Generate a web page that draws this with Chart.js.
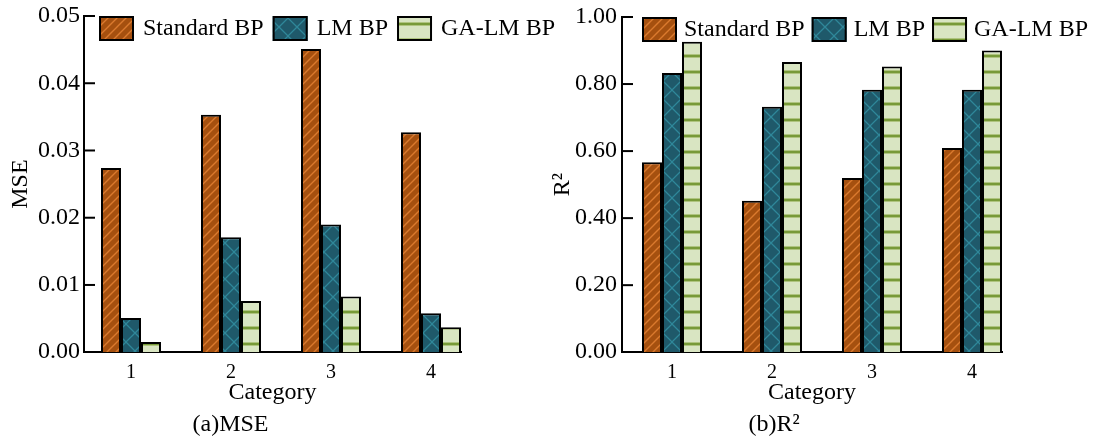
<!DOCTYPE html>
<html>
<head>
<meta charset="utf-8">
<script src="https://cdn.jsdelivr.net/npm/chart.js@4.4.0/dist/chart.umd.min.js"></script>
<style>
  body { margin: 0; background: #fff; }
  .wrap { position: absolute; top: 0; }
</style>
</head>
<body>
<div class="wrap" style="left:0"><canvas id="mseChartId" width="600" height="439"></canvas></div>
<div class="wrap" style="left:546px"><canvas id="r2ChartId" width="547" height="439"></canvas></div>
<script>
var categories = [1, 2, 3, 4];
var seriesNames = ['Standard BP', 'LM BP', 'GA-LM BP'];

var mseStandard = [0.0274, 0.0353, 0.0451, 0.0327];
var mseLM = [0.0051, 0.0171, 0.0190, 0.0058];
var mseGA = [0.0015, 0.0076, 0.0083, 0.0037];

var r2Standard = [0.567, 0.452, 0.520, 0.609];
var r2LM = [0.833, 0.732, 0.783, 0.783];
var r2GA = [0.926, 0.866, 0.852, 0.900];

var FONT = "'Liberation Serif', 'Times New Roman', serif";

function makePattern(kind) {
    var c = document.createElement('canvas');
    var ctx = c.getContext('2d');
    if (kind === 'diag') {
        c.width = 9; c.height = 9;
        ctx.fillStyle = '#A5500F';
        ctx.fillRect(0, 0, 9, 9);
        ctx.strokeStyle = '#DA7A2E';
        ctx.lineWidth = 1.4;
        ctx.beginPath();
        ctx.moveTo(-1, 10); ctx.lineTo(10, -1);
        ctx.moveTo(-2, 2); ctx.lineTo(2, -2);
        ctx.moveTo(7, 11); ctx.lineTo(11, 7);
        ctx.stroke();
    } else if (kind === 'cross') {
        c.width = 18; c.height = 18;
        ctx.fillStyle = '#1F596A';
        ctx.fillRect(0, 0, 18, 18);
        ctx.strokeStyle = '#2F8799';
        ctx.lineWidth = 1.3;
        ctx.beginPath();
        ctx.moveTo(-1, -1); ctx.lineTo(19, 19);
        ctx.moveTo(19, -1); ctx.lineTo(-1, 19);
        ctx.stroke();
    } else {
        c.width = 8; c.height = 16;
        ctx.fillStyle = '#D9E5C2';
        ctx.fillRect(0, 0, 8, 16);
        ctx.fillStyle = '#AFC47F';
        ctx.fillRect(0, 6, 8, 4);
        ctx.fillStyle = '#789A38';
        ctx.fillRect(0, 7, 8, 2);
    }
    return ctx.createPattern(c, 'repeat');
}

var fills = [makePattern('diag'), makePattern('cross'), makePattern('horiz')];

// inward tick marks on the y axis
var innerTicks = {
    id: 'innerTicks',
    afterDraw: function(chart) {
        var ctx = chart.ctx;
        var y = chart.scales.y;
        var left = chart.chartArea.left;
        ctx.save();
        ctx.strokeStyle = '#000';
        ctx.lineWidth = 2;
        y.ticks.forEach(function(t) {
            if (t.value === 0) return;
            var py = y.getPixelForValue(t.value);
            ctx.beginPath();
            ctx.moveTo(left, py);
            ctx.lineTo(left + 11, py);
            ctx.stroke();
        });
        ctx.restore();
    }
};

// legend drawn over the top of the plot
var boxLegend = {
    id: 'boxLegend',
    afterDraw: function(chart, args, opts) {
        var ctx = chart.ctx;
        var x = chart.chartArea.left + opts.offset;
        var top = chart.chartArea.top;
        var gap = opts.gap;
        ctx.save();
        ctx.font = '24px ' + FONT;
        ctx.textBaseline = 'middle';
        chart.data.datasets.forEach(function(ds) {
            ctx.fillStyle = ds.backgroundColor;
            ctx.fillRect(x, top, 35, 25);
            ctx.strokeStyle = '#000';
            ctx.lineWidth = 2;
            ctx.strokeRect(x + 1, top + 1, 33, 23);
            x += 35 + gap;
            ctx.fillStyle = '#000';
            ctx.fillText(ds.label, x, top + 13);
            x += ctx.measureText(ds.label).width + gap;
        });
        ctx.restore();
    }
};

function toPoints(values) {
    return values.map(function(v, i) { return {x: categories[i], y: v}; });
}

function createAndRenderChart(chartEl, cfg) {
    if (!chartEl || !cfg) {
        return;
    }
    var sets = cfg.series.map(function(values, i) {
        return {
            label: seriesNames[i],
            data: toPoints(values),
            backgroundColor: fills[i],
            borderColor: '#000',
            borderWidth: 2,
            categoryPercentage: 0.6,
            barPercentage: 1.0
        };
    });

    return new Chart(chartEl, {
        type: 'bar',
        data: { datasets: sets },
        plugins: [innerTicks, boxLegend],
        options: {
            responsive: false,
            animation: false,
            devicePixelRatio: 1,
            layout: { padding: { left: 0, top: 16, right: cfg.padRight, bottom: 0 } },
            plugins: {
                legend: { display: false },
                tooltip: { enabled: false },
                boxLegend: { offset: cfg.legendOffset, gap: cfg.legendGap },
                title: {
                    display: true,
                    position: 'bottom',
                    text: cfg.caption,
                    color: '#000',
                    font: { family: FONT, size: 24, weight: 'normal' },
                    padding: { top: 0, bottom: 0 }
                }
            },
            scales: {
                x: {
                    type: 'linear',
                    min: cfg.xMin,
                    max: 4.3,
                    offset: false,
                    grid: { display: false, drawTicks: false, offset: false },
                    border: { display: true, color: '#000', width: 2 },
                    afterBuildTicks: function(s) {
                        s.ticks = categories.map(function(c) { return {value: c}; });
                    },
                    afterFit: function(s) { s.height = 58; },
                    ticks: {
                        color: '#000',
                        padding: 9,
                        font: { family: FONT, size: 20 },
                        callback: function(v) { return String(v); }
                    },
                    title: {
                        display: true,
                        text: 'Category',
                        color: '#000',
                        font: { family: FONT, size: 24 },
                        padding: { top: 0, bottom: 3 }
                    }
                },
                y: {
                    min: 0,
                    max: cfg.yMax,
                    grid: { display: false, drawTicks: false },
                    border: { display: true, color: '#000', width: 2 },
                    afterFit: function(s) { s.width = cfg.yWidth; },
                    ticks: {
                        stepSize: cfg.step,
                        color: '#000',
                        padding: cfg.tickPad,
                        font: { family: FONT, size: 24, lineHeight: 1 },
                        callback: function(v) { return v.toFixed(2); }
                    },
                    title: {
                        display: true,
                        text: cfg.yTitle,
                        color: '#000',
                        font: { family: FONT, size: 24 },
                        padding: { top: cfg.titlePad, bottom: 0 }
                    }
                }
            }
        }
    });
}

function init() {
    var mseChartEl = document.getElementById('mseChartId').getContext('2d');
    var r2ChartEl = document.getElementById('r2ChartId').getContext('2d');
    createAndRenderChart(mseChartEl, {
        series: [mseStandard, mseLM, mseGA],
        yMax: 0.05, step: 0.01, yTitle: 'MSE', caption: '(a)MSE',
        xMin: 0.53, padRight: 139, yWidth: 84, tickPad: 4, titlePad: 6,
        legendOffset: 15, legendGap: 9
    });
    createAndRenderChart(r2ChartEl, {
        series: [r2Standard, r2LM, r2GA],
        yMax: 1.0, step: 0.2, yTitle: 'R\u00B2', caption: '(b)R\u00B2',
        xMin: 0.5, padRight: 91, yWidth: 76, tickPad: 5, titlePad: 2,
        legendOffset: 20, legendGap: 7
    });
}

init();
</script>
</body>
</html>
